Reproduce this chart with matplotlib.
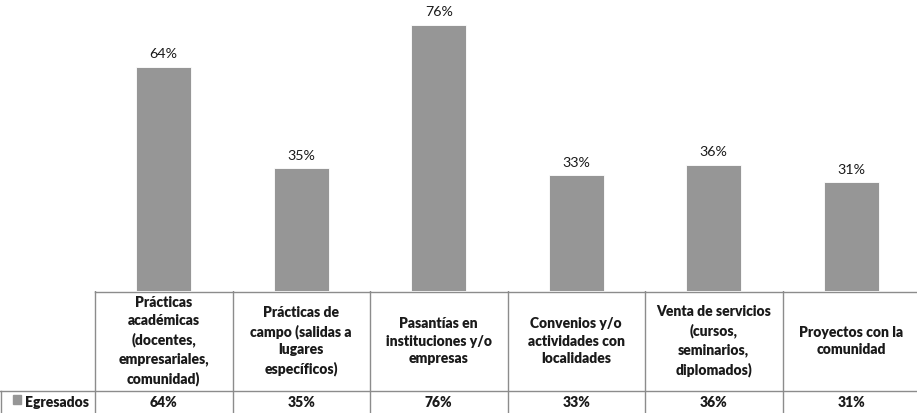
import numpy as np
import matplotlib
matplotlib.use("Agg")
import matplotlib.pyplot as plt

plt.rcParams['font.family'] = ['Lato', 'DejaVu Sans']

# Data
categories = [
    "Prácticas\nacadémicas\n(docentes,\nempresariales,\ncomunidad)",
    "Prácticas de\ncampo (salidas a\nlugares\nespecíficos)",
    "Pasantías en\ninstituciones y/o\nempresas",
    "Convenios y/o\nactividades con\nlocalidades",
    "Venta de servicios\n(cursos,\nseminarios,\ndiplomados)",
    "Proyectos con la\ncomunidad",
]
egresados = [0.64, 0.35, 0.76, 0.33, 0.36, 0.31]
series_name = "Egresados"

bar_color = "#969696"
line_color = "#8c8c8c"
text_color = "#1a1a1a"

W, H = 917, 413
fig = plt.figure(figsize=(W / 100, H / 100), dpi=100)

# table geometry (pixels)
left = 95
col_w = 137.5
table_h = 122
head_h = 100

# bar chart area
ax = fig.add_axes([left / W, table_h / H, 6 * col_w / W, (H - table_h) / H])
x = np.arange(len(egresados))
ax.bar(x, egresados, width=0.4, color=bar_color, edgecolor="white", linewidth=0.6)
for xi, v in zip(x, egresados):
    ax.text(xi, v + 0.018, f"{v:.0%}", ha="center", va="bottom",
            fontsize=10.3, color=text_color)
ax.set_xlim(-0.5, len(egresados) - 0.5)
ax.set_ylim(0, 0.83)
ax.axis("off")

# data table below
tb = fig.add_axes([0, 0, 1, table_h / H])
tb.set_xlim(0, W)
tb.set_ylim(table_h, 0)
tb.axis("off")

edges = [left + i * col_w for i in range(len(categories) + 1)]
tb.plot([left, W], [0.5, 0.5], color=line_color, lw=1)
tb.plot([0, W], [head_h, head_h], color=line_color, lw=1)
for e in edges:
    tb.plot([e, e], [0, table_h], color=line_color, lw=1)
tb.plot([0.5, 0.5], [head_h, table_h], color=line_color, lw=1)

for i, (cat, v) in enumerate(zip(categories, egresados)):
    cx = left + (i + 0.5) * col_w
    tb.text(cx, head_h / 2, cat, ha="center", va="center", fontsize=10,
            fontweight="heavy", color=text_color, linespacing=1.45)
    tb.text(cx, head_h + 11.5, f"{v:.0%}", ha="center", va="center",
            fontsize=10, fontweight="heavy", color=text_color)

# legend key
tb.add_patch(plt.Rectangle((13, head_h + 4), 8, 9, color=bar_color))
tb.text(25, head_h + 11.5, series_name, ha="left", va="center", fontsize=10,
        fontweight="heavy", color=text_color)

fig.savefig("out.png", dpi=100)
